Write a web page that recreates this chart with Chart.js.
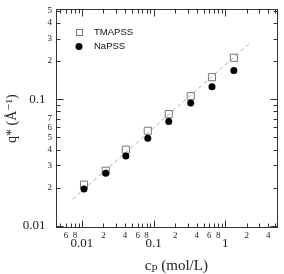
<!DOCTYPE html>
<html>
<head>
<meta charset="utf-8">
<script src="https://cdn.jsdelivr.net/npm/chart.js"></script>
<style>
  html, body { margin: 0; padding: 0; background: #fff; }
  canvas { display: block; }
</style>
</head>
<body>
<canvas id="chart" width="284" height="274"></canvas>
<script>
// polymer concentration (mol/L) and peak position q* (1/A)
const cp = [0.0107, 0.0215, 0.041, 0.083, 0.163, 0.33, 0.653, 1.32];
const qTMAPSS = [0.0211, 0.0272, 0.0399, 0.0562, 0.0762, 0.1056, 0.149, 0.212];
const qNaPSS = [0.0195, 0.026, 0.0356, 0.0491, 0.0667, 0.093, 0.125, 0.168];
// dashed guide line (slope 1/2)
const fitX = [0.0074, 2.3];
const fitY = [0.0162, 0.2825];

const xTickValues = [0.005, 0.006, 0.007, 0.008, 0.009,
    0.01, 0.02, 0.03, 0.04, 0.05, 0.06, 0.07, 0.08, 0.09,
    0.1, 0.2, 0.3, 0.4, 0.5, 0.6, 0.7, 0.8, 0.9,
    1, 2, 3, 4, 5];
const xTickLabels = ['', '6', '', '8', '',
    '0.01', '2', '', '4', '', '6', '', '8', '',
    '0.1', '2', '', '4', '', '6', '', '8', '',
    '1', '2', '', '4', ''];
const yTickValues = [0.01, 0.02, 0.03, 0.04, 0.05, 0.06, 0.07, 0.08, 0.09,
    0.1, 0.2, 0.3, 0.4, 0.5];
const yTickLabels = ['0.01', '2', '3', '4', '5', '6', '7', '', '',
    '0.1', '2', '3', '4', '5'];

const serif = "'Liberation Serif', 'DejaVu Serif', serif";
const isDecade = v => Math.abs(Math.log10(v) - Math.round(Math.log10(v))) < 1e-9;
const toTicks = vals => vals.map(v => ({value: v, major: isDecade(v)}));
const tickFont = c => (c.tick && c.tick.major)
    ? {family: serif, size: 13, lineHeight: '9px'}
    : {family: serif, size: 9};

// frame, inward tick marks on all four sides, and the legend box
const framePlugin = {
    id: 'frame',
    afterDraw(chart) {
        const ctx = chart.ctx;
        const a = chart.chartArea;
        const x = chart.scales.x, y = chart.scales.y;
        const L = Math.round(a.left) + 0.5, R = Math.round(a.right) - 0.5;
        const T = Math.round(a.top) + 0.5, B = Math.round(a.bottom) - 0.5;
        ctx.save();
        ctx.strokeStyle = '#333';
        ctx.lineWidth = 1;
        ctx.strokeRect(L, T, R - L, B - T);
        ctx.beginPath();
        x.ticks.forEach(t => {
            const px = Math.round(x.getPixelForValue(t.value)) + 0.5;
            const len = t.major ? 7 : 4;
            ctx.moveTo(px, B); ctx.lineTo(px, B - len);
            ctx.moveTo(px, T); ctx.lineTo(px, T + len);
        });
        y.ticks.forEach(t => {
            const py = Math.round(y.getPixelForValue(t.value)) + 0.5;
            const len = t.major ? 7 : 4;
            ctx.moveTo(L, py); ctx.lineTo(L + len, py);
            ctx.moveTo(R, py); ctx.lineTo(R - len, py);
        });
        ctx.stroke();

        // legend
        const lx = a.left + 23;
        let ly = a.top + 23;
        ctx.font = "9.5px 'Liberation Sans', Arial, sans-serif";
        ctx.textBaseline = 'middle';
        ctx.textAlign = 'left';
        chart.data.datasets.slice(0, 2).forEach(ds => {
            ctx.beginPath();
            if (ds.pointStyle === 'rect') {
                ctx.strokeStyle = ds.borderColor;
                ctx.lineWidth = 1;
                ctx.strokeRect(Math.round(lx - 3.5) + 0.5, Math.round(ly - 3.5) + 0.5, 6, 6);
            } else {
                ctx.fillStyle = ds.backgroundColor;
                ctx.arc(lx, ly, ds.pointRadius, 0, Math.PI * 2);
                ctx.fill();
            }
            ctx.fillStyle = '#111';
            ctx.fillText(ds.label, lx + 15, ly);
            ly += 14;
        });
        ctx.restore();
    }
};

new Chart(document.getElementById('chart'), {
    type: 'scatter',
    data: {
        datasets: [{
            label: 'TMAPSS',
            data: cp.map((c, i) => ({x: c, y: qTMAPSS[i]})),
            pointStyle: 'rect',
            pointRadius: 5,
            backgroundColor: 'rgba(0,0,0,0)',
            borderColor: '#777',
            borderWidth: 1,
            order: 1
        }, {
            label: 'NaPSS',
            data: cp.map((c, i) => ({x: c, y: qNaPSS[i]})),
            pointStyle: 'circle',
            pointRadius: 3.5,
            backgroundColor: '#000',
            borderColor: '#000',
            borderWidth: 0,
            order: 0
        }, {
            label: 'slope 1/2',
            data: fitX.map((c, i) => ({x: c, y: fitY[i]})),
            showLine: true,
            borderColor: '#b0b0b0',
            borderWidth: 1,
            borderDash: [4, 3],
            pointRadius: 0,
            order: 2
        }]
    },
    options: {
        responsive: false,
        animation: false,
        events: [],
        layout: {padding: {top: 9, right: 5, left: 0, bottom: 0}},
        plugins: {legend: {display: false}, tooltip: {enabled: false}},
        scales: {
            x: {
                type: 'logarithmic',
                min: 0.00435,
                max: 5.45,
                afterBuildTicks: s => { s.ticks = toTicks(xTickValues); },
                afterFit: s => { s.height = 46; },
                grid: {display: false, drawTicks: false},
                border: {display: false},
                ticks: {
                    autoSkip: false,
                    maxRotation: 0,
                    padding: 2,
                    color: '#222',
                    font: tickFont,
                    callback: (v) => {
                        const lab = xTickLabels[xTickValues.indexOf(v)] || '';
                        return isDecade(v) ? ['', lab] : lab;
                    }
                },
                title: {
                    display: true,
                    text: '     cₚ (mol/L)',
                    color: '#222',
                    font: {family: serif, size: 15, lineHeight: 1},
                    padding: {top: 0, bottom: 0}
                }
            },
            y: {
                type: 'logarithmic',
                min: 0.0096,
                max: 0.511,
                afterBuildTicks: s => { s.ticks = toTicks(yTickValues); },
                afterFit: s => { s.width = 56; },
                grid: {display: false, drawTicks: false},
                border: {display: false},
                ticks: {
                    autoSkip: false,
                    padding: 4,
                    color: '#222',
                    font: tickFont,
                    callback: (v) => {
                        const lab = yTickLabels[yTickValues.indexOf(v)] || '';
                        return isDecade(v) ? lab + '  ' : lab;
                    }
                },
                title: {
                    display: true,
                    text: 'q* (Å⁻¹)',
                    color: '#222',
                    font: {family: serif, size: 14},
                    padding: {top: 4, bottom: 0}
                }
            }
        }
    },
    plugins: [framePlugin]
});
</script>
</body>
</html>
